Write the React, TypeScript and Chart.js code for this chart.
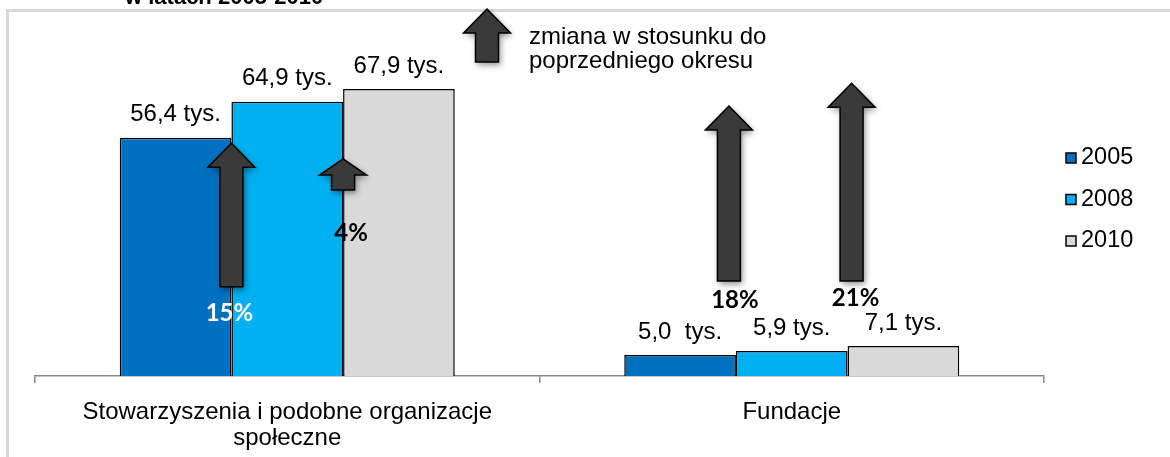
import React, { useEffect, useRef } from 'react';
import { Chart, registerables } from 'chart.js';

Chart.register(...registerables);

// ---- data ----
const categories = [['Stowarzyszenia i podobne organizacje', 'społeczne'], 'Fundacje'];
const years = ['2005', '2008', '2010'];
const values2005 = [56.4, 5.0];
const values2008 = [64.9, 5.9];
const values2010 = [67.9, 7.1];
const valueLabels2005 = ['56,4 tys.', '5,0  tys.'];
const valueLabels2008 = ['64,9 tys.', '5,9 tys.'];
const valueLabels2010 = ['67,9 tys.', '7,1 tys.'];

// change arrows (category index, boundary after dataset k, from value, to value)
const changeLabels = ['15%', '4%', '18%', '21%'];
const arrowCategory = [0, 0, 1, 1];
const arrowAfterDataset = [0, 1, 0, 1];
const arrowFrom = [21.1, 44.0, 22.5, 22.5];
const arrowTo = [55.1, 51.4, 63.9, 69.3];
const changeLabelValue = [14.9, 33.8, 18.0, 18.5];

const titleText = 'w latach 2005-2010';
const arrowKeyText = ['zmiana w stosunku do', 'poprzedniego okresu'];

// ---- styles ----
const colors = ['#0070C0', '#00B0F0', '#D9D9D9'];
const FONT = '"Liberation Sans", Arial, sans-serif';
const arrowDx = [0, 0, -7, 4];
const labelDx = [-2, 8, -1, 8];
const labelColors = ['#ffffff', '#000000', '#000000', '#000000'];

function drawArrow(ctx: CanvasRenderingContext2D, cx: number, tipY: number, baseY: number) {
  const headW = 47;
  const shaftW = 23;
  const hh = Math.min(24, (baseY - tipY) * 0.52);
  ctx.save();
  ctx.beginPath();
  ctx.moveTo(cx, tipY);
  ctx.lineTo(cx + headW / 2, tipY + hh);
  ctx.lineTo(cx + shaftW / 2, tipY + hh);
  ctx.lineTo(cx + shaftW / 2, baseY);
  ctx.lineTo(cx - shaftW / 2, baseY);
  ctx.lineTo(cx - shaftW / 2, tipY + hh);
  ctx.lineTo(cx - headW / 2, tipY + hh);
  ctx.closePath();
  ctx.shadowColor = 'rgba(0,0,0,0.45)';
  ctx.shadowBlur = 6;
  ctx.shadowOffsetX = 2;
  ctx.shadowOffsetY = 3;
  ctx.fillStyle = '#3A3A3A';
  ctx.fill();
  ctx.shadowColor = 'transparent';
  ctx.lineWidth = 1.5;
  ctx.strokeStyle = '#000000';
  ctx.lineJoin = 'miter';
  ctx.stroke();
  ctx.restore();
}

const decorPlugin = {
  id: 'decor',
  beforeDraw(chart: any) {
    const ctx = chart.ctx as CanvasRenderingContext2D;
    ctx.save();
    ctx.fillStyle = '#ffffff';
    ctx.fillRect(0, 0, chart.width, chart.height);
    // frame
    ctx.fillStyle = '#D9D9D9';
    ctx.fillRect(6, 9, 3, chart.height - 9);
    ctx.fillRect(6, 9, chart.width - 6, 3);
    // cut-off title
    ctx.fillStyle = '#000000';
    ctx.font = `bold 22px ${FONT}`;
    ctx.textAlign = 'left';
    ctx.textBaseline = 'alphabetic';
    ctx.fillText(titleText, 125, 4);
    ctx.restore();
  },
  afterDatasetsDraw(chart: any) {
    const ctx = chart.ctx as CanvasRenderingContext2D;
    const yScale = chart.scales.y;
    const labelSets = [valueLabels2005, valueLabels2008, valueLabels2010];
    ctx.save();
    // value labels
    ctx.fillStyle = '#000000';
    ctx.font = `24px ${FONT}`;
    ctx.textAlign = 'center';
    ctx.textBaseline = 'middle';
    chart.data.datasets.forEach((ds: any, di: number) => {
      const meta = chart.getDatasetMeta(di);
      meta.data.forEach((bar: any, i: number) => {
        ctx.fillText(labelSets[di][i], bar.x, bar.y - 23);
      });
    });
    // change arrows
    changeLabels.forEach((lab, k) => {
      const meta = chart.getDatasetMeta(arrowAfterDataset[k]);
      const bar: any = meta.data[arrowCategory[k]];
      const cx = bar.x + bar.width / 2 + arrowDx[k];
      drawArrow(ctx, cx, yScale.getPixelForValue(arrowTo[k]), yScale.getPixelForValue(arrowFrom[k]));
      ctx.fillStyle = labelColors[k];
      ctx.font = `bold 24px Lato, "Open Sans", sans-serif`;
      ctx.textAlign = 'center';
      ctx.textBaseline = 'middle';
      ctx.fillText(lab, bar.x + bar.width / 2 + labelDx[k], yScale.getPixelForValue(changeLabelValue[k]));
    });
    // arrow key
    drawArrow(ctx, 487, 9, 62);
    ctx.fillStyle = '#000000';
    ctx.font = `24px ${FONT}`;
    ctx.textAlign = 'left';
    ctx.textBaseline = 'middle';
    ctx.fillText(arrowKeyText[0], 529, 37);
    ctx.fillText(arrowKeyText[1], 529, 61);
    // legend
    years.forEach((y, i) => {
      const cy = 158 + i * 41.5;
      ctx.fillStyle = colors[i];
      ctx.fillRect(1066, cy - 5, 10, 10);
      ctx.lineWidth = 1.5;
      ctx.strokeStyle = '#000000';
      ctx.strokeRect(1066, cy - 5, 10, 10);
      ctx.fillStyle = '#000000';
      ctx.font = `23.5px ${FONT}`;
      ctx.textAlign = 'left';
      ctx.textBaseline = 'middle';
      ctx.fillText(y, 1081, cy);
    });
    ctx.restore();
  },
};

export default function App() {
  const canvasRef = useRef<HTMLCanvasElement | null>(null);

  useEffect(() => {
    document.body.style.margin = '0';
    const canvas = canvasRef.current;
    if (!canvas) return;
    const valueSets = [values2005, values2008, values2010];
    const chart = new Chart(canvas, {
      type: 'bar',
      data: {
        labels: categories as any,
        datasets: years.map((y, i) => ({
          label: y,
          data: valueSets[i],
          backgroundColor: colors[i],
          borderColor: '#000000',
          borderWidth: 1.5,
          categoryPercentage: 0.664,
          barPercentage: 1.0,
        })),
      },
      options: {
        animation: false,
        responsive: true,
        maintainAspectRatio: false,
        devicePixelRatio: 1,
        layout: { padding: { left: 35, right: 126, top: 38, bottom: 0 } },
        plugins: {
          legend: { display: false },
          tooltip: { enabled: false },
          title: { display: false },
        },
        scales: {
          x: {
            grid: {
              display: true,
              drawOnChartArea: false,
              drawTicks: true,
              tickLength: 7,
              color: '#898989',
              lineWidth: 1.5,
            },
            border: { display: true, color: '#898989', width: 1.5 },
            ticks: {
              color: '#000000',
              font: { family: FONT, size: 24, lineHeight: 1.08 },
              padding: 16,
              maxRotation: 0,
              autoSkip: false,
            },
            afterFit(scale: any) {
              scale.height = 81;
            },
          },
          y: {
            display: false,
            min: 0,
            max: 80,
          },
        },
      },
      plugins: [decorPlugin],
    });
    return () => chart.destroy();
  }, []);

  return (
    <div style={{ position: 'absolute', left: 0, top: 0, width: 1170, height: 457 }}>
      <canvas ref={canvasRef} />
    </div>
  );
}
